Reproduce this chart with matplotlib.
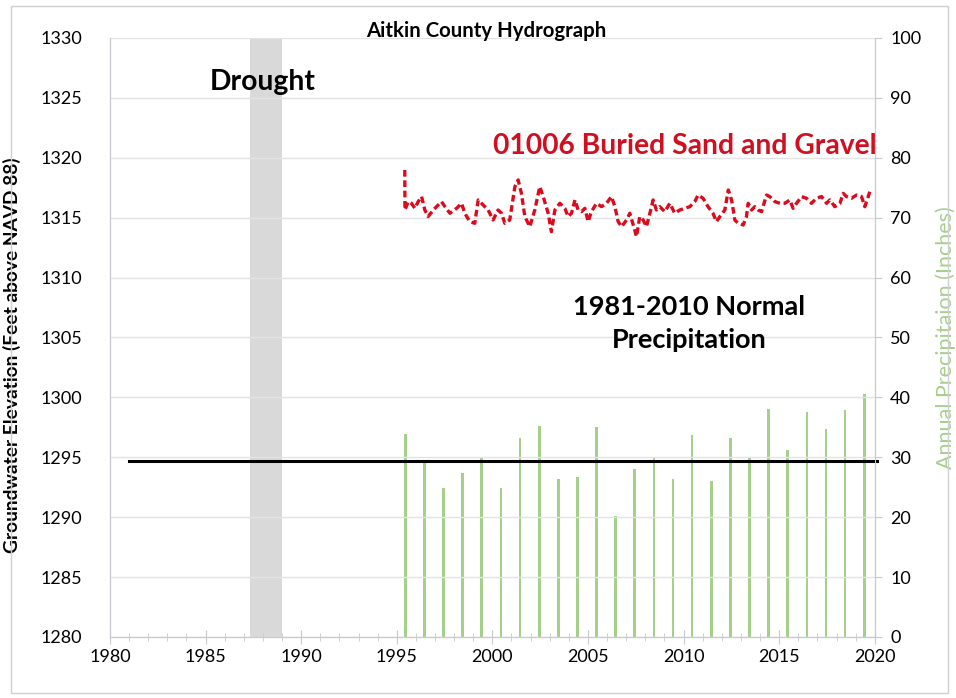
import matplotlib.pyplot as plt
from matplotlib.patches import Rectangle

plt.rcParams['font.family'] = ['Lato', 'DejaVu Sans']

# annual precipitation (inches), plotted at mid-year
precip_years = list(range(1995, 2020))
precip = [33.9, 29.1, 24.8, 27.3, 29.8, 24.9, 33.2, 35.2, 26.4, 26.7,
          35.1, 20.2, 28.0, 29.9, 26.4, 33.8, 26.0, 33.3, 29.8, 38.1,
          31.2, 37.5, 34.7, 37.9, 40.6]
normal_precip = 29.4

# groundwater level readings, well 01006
gw_years = [1995.42, 1995.43, 1995.60, 1995.77, 1995.95, 1996.12, 1996.30, 1996.47,
            1996.64, 1996.91, 1997.34, 1997.52, 1997.78, 1998.13, 1998.39, 1998.56,
            1998.82, 1999.08, 1999.26, 1999.52, 1999.78, 2000.04, 2000.30, 2000.48,
            2000.65, 2000.91, 2001.18, 2001.35, 2001.52, 2001.70, 2001.96, 2002.22,
            2002.48, 2002.66, 2002.92, 2003.09, 2003.27, 2003.53, 2003.79, 2003.97,
            2004.14, 2004.32, 2004.49, 2004.66, 2004.84, 2005.01, 2005.18, 2005.45,
            2005.71, 2005.97, 2006.23, 2006.41, 2006.58, 2006.76, 2007.02, 2007.19,
            2007.37, 2007.54, 2007.71, 2007.89, 2008.06, 2008.24, 2008.41, 2008.58,
            2008.76, 2009.02, 2009.28, 2009.54, 2009.80, 2010.07, 2010.33, 2010.59,
            2010.76, 2011.02, 2011.28, 2011.54, 2011.72, 2011.90, 2012.16, 2012.34,
            2012.51, 2012.60, 2012.68, 2012.86, 2013.12, 2013.29, 2013.38, 2013.56,
            2013.73, 2013.90, 2014.08, 2014.34, 2014.51, 2014.78, 2015.04, 2015.30,
            2015.56, 2015.73, 2015.91, 2016.17, 2016.43, 2016.69, 2016.95, 2017.22,
            2017.48, 2017.65, 2017.91, 2018.18, 2018.35, 2018.52, 2018.78, 2019.05,
            2019.31, 2019.48, 2019.66, 2019.74]
gw_level = [1318.98, 1315.64, 1316.34, 1316.20, 1315.78, 1316.34, 1316.76, 1315.64,
            1315.09, 1315.64, 1316.34, 1315.92, 1315.37, 1315.78, 1316.20, 1315.37,
            1314.67, 1314.53, 1316.48, 1316.06, 1315.64, 1314.81, 1315.64, 1315.37,
            1314.53, 1314.81, 1317.59, 1318.15, 1317.03, 1315.09, 1314.25, 1315.64,
            1317.59, 1316.76, 1315.37, 1313.83, 1315.64, 1316.20, 1315.78, 1315.09,
            1315.37, 1316.48, 1315.64, 1315.50, 1315.78, 1314.67, 1315.50, 1316.20,
            1315.92, 1316.20, 1316.76, 1315.92, 1314.67, 1314.25, 1314.81, 1315.37,
            1314.39, 1313.42, 1315.09, 1314.81, 1314.25, 1315.37, 1316.48, 1315.64,
            1315.92, 1315.50, 1316.20, 1315.37, 1315.64, 1315.78, 1315.92, 1316.34,
            1316.89, 1316.62, 1315.92, 1315.37, 1314.67, 1315.09, 1315.64, 1317.31,
            1316.48, 1315.64, 1314.81, 1314.53, 1314.39, 1315.09, 1316.20, 1315.64,
            1315.92, 1315.64, 1315.50, 1316.89, 1316.76, 1316.34, 1316.20, 1316.20,
            1316.48, 1315.78, 1316.20, 1316.76, 1316.62, 1316.20, 1316.62, 1316.76,
            1316.20, 1316.48, 1315.92, 1316.20, 1317.03, 1316.76, 1316.62, 1316.89,
            1316.76, 1315.92, 1316.76, 1317.17]

drought = (1987.35, 1989.0)

fig = plt.figure(figsize=(9.56, 6.98), dpi=100)
ax = fig.add_axes([0.115, 0.0874, 0.8, 0.8582])
ax2 = ax.twinx()

# frame around whole chart
fig.patches.append(Rectangle((0.011, 0.007), 0.981, 0.985, transform=fig.transFigure,
                             fill=False, edgecolor='#d0d0d0', lw=1))

ax.set_xlim(1980, 2020)
ax.set_ylim(1280, 1330)
ax2.set_ylim(0, 100)

ax.set_yticks(range(1280, 1331, 5))
ax.set_xticks(range(1980, 2021, 5))
ax.set_xticks(range(1980, 2021), minor=True)
ax2.set_yticks(range(0, 101, 10))
ax.grid(axis='y', color='#e3e3e3', lw=1)
ax.set_axisbelow(True)

ax2.axvspan(drought[0], drought[1], color='#d9d9d9', lw=0, zorder=1)
ax2.bar([y + 0.45 for y in precip_years], precip, width=0.14, color='#a6cf8c', zorder=2)
ax2.plot([1981, 2020.1], [normal_precip, normal_precip], color='black', lw=2.2, zorder=3,
         clip_on=False)

ax.plot(gw_years, gw_level, color='#dd0a1c', lw=2.4, ls=(0, (2.0, 1.1)), zorder=4)
ax.set_zorder(ax2.get_zorder() + 1)
ax.patch.set_visible(False)

for a in (ax, ax2):
    for s in a.spines.values():
        s.set_color('#c8c8d0')
    a.spines['top'].set_visible(False)
ax.tick_params(axis='y', length=0, labelsize=13, pad=20)
ax2.tick_params(axis='y', length=5, color='#c8c8d0', labelsize=13, pad=6, direction='out')
ax.tick_params(axis='x', which='major', length=10, direction='inout', color='#c8c8d0',
               labelsize=13, pad=4)
ax.tick_params(axis='x', which='minor', length=6, direction='inout', color='#c8c8d0')

ax.set_ylabel('Groundwater Elevation (Feet above NAVD 88)', fontsize=13.8,
              fontweight='bold')
ax.yaxis.set_label_coords(-0.116, 0.47)
ax2.set_ylabel('Annual Precipitaion (Inches)', fontsize=15.5, color='#a6cf8c',
               labelpad=10)

fig.text(0.509, 0.955, 'Aitkin County Hydrograph', fontsize=14.7, fontweight='bold',
         ha='center', va='center')
ax.text(1988.0, 1326.3, 'Drought', fontsize=20.3, fontweight='bold', ha='center', va='center')
ax.text(2020.1, 1321.0, '01006 Buried Sand and Gravel', fontsize=20.3, fontweight='bold',
        color='#d01020', ha='right', va='center')
ax.text(2010.3, 1306.2, '1981-2010 Normal\nPrecipitation', fontsize=19.5, fontweight='bold',
        ha='center', va='center', linespacing=1.45)

fig.savefig('out.png', dpi=100)
